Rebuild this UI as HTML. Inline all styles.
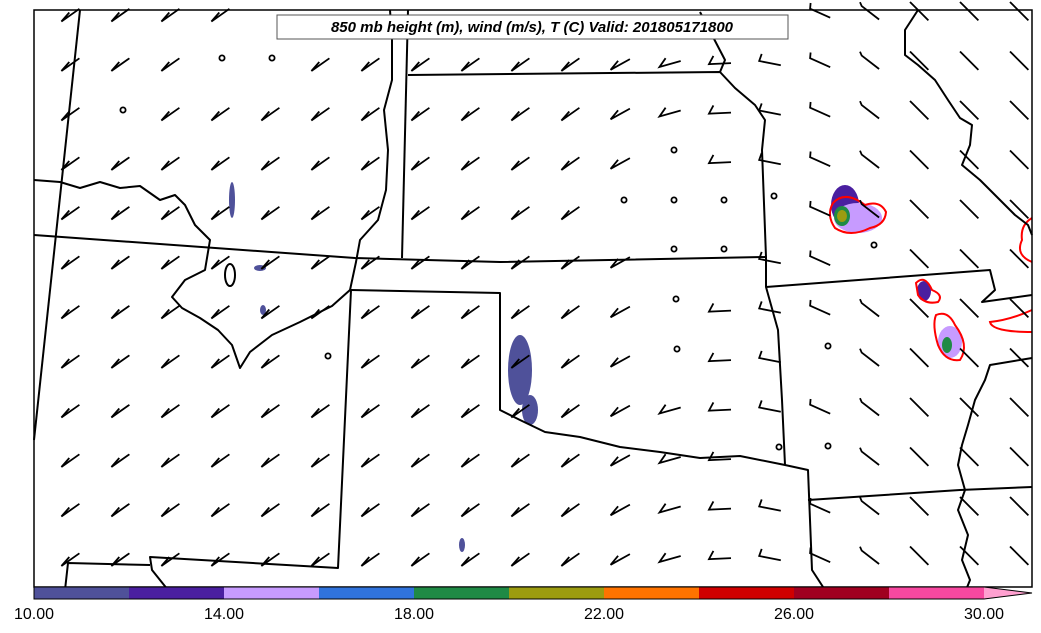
<!DOCTYPE html>
<html><head><meta charset="utf-8"><style>
html,body{margin:0;padding:0;background:#fff;}
svg{display:block;font-family:"Liberation Sans",sans-serif;}
</style></head><body>
<svg id="s" width="1041" height="633" viewBox="0 0 1041 633" xmlns="http://www.w3.org/2000/svg">
<rect x="0" y="0" width="1041" height="633" fill="#fff"/>
<g fill="#4f519a" stroke="none">
<ellipse cx="520" cy="370" rx="12" ry="35"/>
<ellipse cx="530" cy="410" rx="8" ry="15"/>
<ellipse cx="232" cy="200" rx="3" ry="18"/>
<ellipse cx="263" cy="310" rx="3" ry="5"/>
<ellipse cx="462" cy="545" rx="3" ry="7"/>
<ellipse cx="260" cy="268" rx="6" ry="3"/>
</g>
<g>
<ellipse cx="845" cy="205" rx="14" ry="20" fill="#4a1fa0"/>
<ellipse cx="858" cy="218" rx="24" ry="15" fill="#c79bff"/>
<ellipse cx="842" cy="216" rx="8" ry="10" fill="#1f8a45"/>
<ellipse cx="842" cy="216" rx="5" ry="6" fill="#9c9c10"/>
<path d="M833,203 Q845,190 865,205 Q880,200 886,212 Q885,225 870,228 Q850,238 835,228 Q826,215 833,203 Z" fill="none" stroke="#f00" stroke-width="2"/>
<ellipse cx="924" cy="291" rx="7" ry="10" fill="#4a1fa0"/>
<path d="M916,283 Q925,274 932,290 Q944,295 938,302 Q925,305 918,295 Z" fill="none" stroke="#f00" stroke-width="2"/>
<ellipse cx="950" cy="342" rx="12" ry="16" fill="#c79bff"/>
<ellipse cx="947" cy="345" rx="5" ry="8" fill="#1f8a45"/>
<path d="M936,315 Q948,310 955,325 Q970,345 960,360 Q945,362 938,345 Q932,325 936,315 Z" fill="none" stroke="#f00" stroke-width="2"/>
<path d="M1032,218 Q1020,225 1022,240 Q1015,255 1032,262" fill="none" stroke="#f00" stroke-width="2"/>
<path d="M1032,310 Q1010,320 990,322 Q992,332 1032,332" fill="none" stroke="#f00" stroke-width="2"/>
</g>
<g fill="none" stroke="#000" stroke-width="2" stroke-linejoin="round">
<path d="M80,10 L34,440"/>
<path d="M34,235 L355,258 L500,262 L766,257"/>
<path d="M34,180 L60,182 L80,188 L100,182 L120,188 L140,186 L160,200 L175,195 L185,205 L195,225 L210,240 L205,270 L185,280 L172,297 L182,308 L200,318 L218,330 L232,345 L240,368 L250,352 L272,335 L300,322 L332,306 L350,290 L356,262 L360,240 L378,220 L386,190 L388,150 L384,110 L392,80 L392,40 L390,10"/>
<ellipse cx="230" cy="275" rx="5" ry="11"/>
<path d="M408,10 L402,258"/>
<path d="M408,75 L720,72 L735,88 L755,105 L765,120 L762,150 L766,257 L766,287 L778,330 L782,400 L785,465"/>
<path d="M720,72 L725,60 L700,12"/>
<path d="M766,287 L990,270 L995,290 L982,302 L1032,295"/>
<path d="M351,290 L338,568 L150,557 L152,570 L168,590"/>
<path d="M351,290 L500,293 L500,410 L520,420 L545,432 L580,437 L620,447 L660,452 L700,458 L740,456 L785,465 L808,470 L812,570 L825,590"/>
<path d="M808,500 L960,490 L1032,487"/>
<path d="M1032,358 L990,365 L985,380 L975,400 L968,425 L962,445 L958,465 L965,490 L958,510 L968,535 L962,560 L970,580 L966,590"/>
<path d="M918,10 L905,30 L905,55 L918,65 L935,80 L948,100 L960,118 L972,125 L970,145 L962,165 L980,180 L1000,200 L1015,215 L1028,225 L1032,235"/>
<path d="M65,590 L68,563 L150,565"/>
</g>
<g id="barbs" fill="none" stroke="#000" stroke-width="1.8"></g>
<rect x="34" y="10" width="998" height="577" fill="none" stroke="#000" stroke-width="1.5"/>
<rect x="277" y="15" width="511" height="24" fill="#fff" stroke="#555" stroke-width="1"/>
<text x="532" y="32" text-anchor="middle" font-size="15" font-weight="bold" font-style="italic">850 mb height (m), wind (m/s), T (C) Valid: 201805171800</text>
<g stroke="none">
<rect x="34" y="587" width="95" height="12" fill="#4f519a"/>
<rect x="129" y="587" width="95" height="12" fill="#4a1fa0"/>
<rect x="224" y="587" width="95" height="12" fill="#c79bff"/>
<rect x="319" y="587" width="95" height="12" fill="#3073dc"/>
<rect x="414" y="587" width="95" height="12" fill="#1f8a45"/>
<rect x="509" y="587" width="95" height="12" fill="#9c9c10"/>
<rect x="604" y="587" width="95" height="12" fill="#ff7300"/>
<rect x="699" y="587" width="95" height="12" fill="#d00000"/>
<rect x="794" y="587" width="95" height="12" fill="#a00020"/>
<rect x="889" y="587" width="95" height="12" fill="#f748a0"/>
<polygon points="984,587 1032,593 984,599" fill="#ffa0d0"/>
</g>
<polygon points="34,587 984,587 1032,593 984,599 34,599" fill="none" stroke="#000" stroke-width="1"/>
<g font-size="16" text-anchor="middle" fill="#000">
<text x="34" y="619">10.00</text>
<text x="224" y="619">14.00</text>
<text x="414" y="619">18.00</text>
<text x="604" y="619">22.00</text>
<text x="794" y="619">26.00</text>
<text x="984" y="619">30.00</text>
</g>
</svg>
<script>
var g=document.getElementById('barbs'),ns='http://www.w3.org/2000/svg';
var calm=[[222,58],[272,58],[123,110],[328,356],[674,150],[624,200],[674,200],[724,200],[674,249],[724,249],[676,299],[677,349],[779,447],[828,446],[828,346],[874,245],[774,196]];
function isCalm(x,y){for(var i=0;i<calm.length;i++){if(Math.abs(calm[i][0]-x)<20&&Math.abs(calm[i][1]-y)<20)return calm[i];}return null;}
for(var r=0;r<12;r++){for(var c=0;c<20;c++){
 var x=72+c*50,y=14+r*49.5;
 if(y<12||y>575)continue;
 if(r==0&&x>270&&x<800)continue;
 var cc=isCalm(x,y);
 if(cc){var e=document.createElementNS(ns,'circle');e.setAttribute('cx',cc[0]);e.setAttribute('cy',cc[1]);e.setAttribute('r',2.6);g.appendChild(e);continue;}
 var a;
 if(x<600)a=215;else if(x>900)a=135;else a=215-(x-600)/300*80;
 var rad=a*Math.PI/180,L=22;
 var x0=x-9*Math.cos(rad),y0=y+9*Math.sin(rad);
 var x1=x0+L*Math.cos(rad),y1=y0-L*Math.sin(rad);
 var p=document.createElementNS(ns,'path');
 p.setAttribute('d','M'+x0.toFixed(1)+','+y0.toFixed(1)+'L'+x1.toFixed(1)+','+y1.toFixed(1)+'L'+(x1+9*Math.cos(rad+1.3*Math.PI/2)).toFixed(1)+','+(y1-9*Math.sin(rad-1.3*Math.PI/2)).toFixed(1));
 g.appendChild(p);
}}
</script>
</body></html>
